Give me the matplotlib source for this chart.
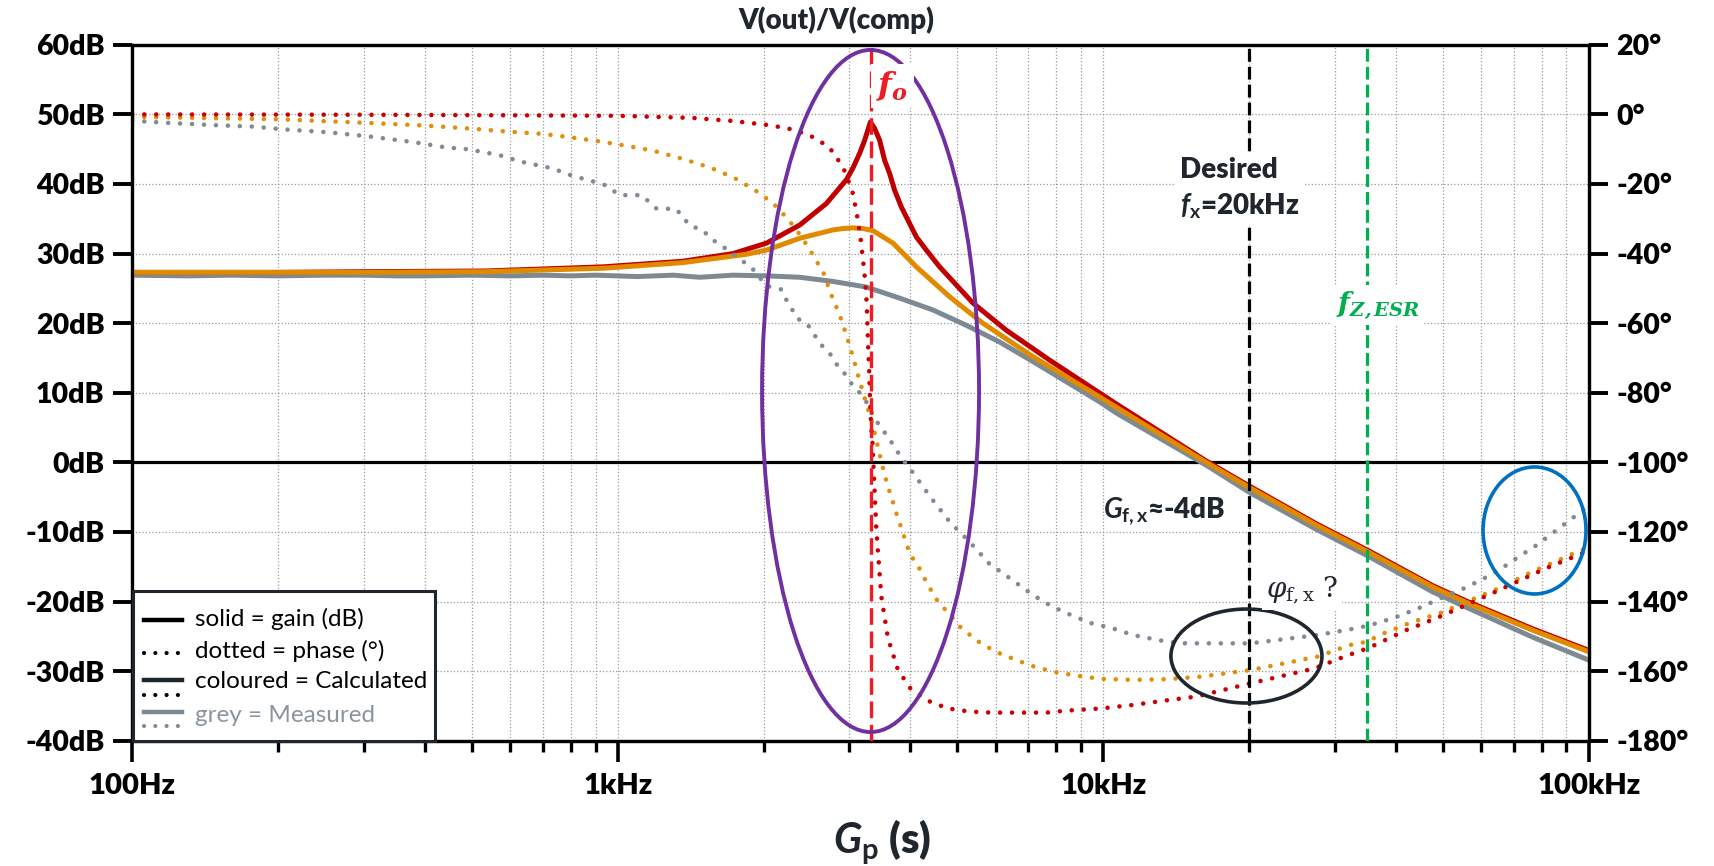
import matplotlib
matplotlib.use("Agg")
import matplotlib.pyplot as plt
from matplotlib import font_manager as fm
from matplotlib.patches import Ellipse, Rectangle
from matplotlib.lines import Line2D
from matplotlib.ticker import FixedLocator, NullFormatter

# ---------------- data ----------------
# Calculated gain, red (high Q)
red_gain_f = [100, 200, 300, 534, 935, 1360, 1727, 2024, 2370, 2690, 2957, 3051, 3149, 3226,
              3314, 3381, 3462, 3546, 3631, 3718, 3838, 3961, 4121, 4322, 4602, 4981, 5390,
              6312, 7752, 10640, 16300, 20000, 27450, 35000, 47700, 55900, 76600, 100000]
red_gain_db = [27.3, 27.3, 27.4, 27.5, 28.1, 28.9, 30.0, 31.5, 34.1, 37.2, 40.6, 42.3, 44.4,
               46.3, 48.9, 48.0, 46.3, 43.4, 41.5, 39.1, 36.7, 34.8, 32.4, 30.5, 28.1, 25.5,
               22.9, 19.0, 14.7, 8.4, 0.2, -3.4, -8.8, -12.6, -17.7, -19.9, -23.9, -27.0]

# Calculated gain, orange (lower Q)
orange_gain_f = [100, 300, 534, 935, 1360, 1840, 2024, 2370, 2775, 2911, 3051, 3200, 3355,
                 3690, 4121, 4826, 5650, 7161, 9830, 12650, 16300, 20000, 27450, 35000,
                 47700, 55900, 76600, 100000]
orange_gain_db = [27.3, 27.3, 27.4, 27.9, 28.7, 29.9, 30.5, 32.2, 33.4, 33.6, 33.7, 33.6, 33.3,
                  31.5, 28.1, 23.8, 20.0, 15.2, 9.4, 4.7, 0.0, -3.6, -9.0, -12.8,
                  -17.9, -20.1, -24.1, -27.2]

# Measured gain, grey
grey_gain_f = [100, 130, 160, 200, 250, 300, 350, 400, 500, 600, 700, 800, 900, 1100, 1300,
               1475, 1727, 2024, 2370, 2775, 3250, 3808, 4459, 5224, 6116, 7161, 8390,
               9830, 10640, 16300, 20000, 27450, 35000, 47700, 55900, 76600, 100000]
grey_gain_db = [26.9, 26.8, 26.9, 26.8, 26.9, 26.9, 26.8, 26.8, 26.9, 26.8, 26.9, 26.8, 26.9,
                26.7, 26.9, 26.6, 26.9, 26.8, 26.6, 26.0, 25.2, 23.6, 21.9, 19.7, 17.3,
                14.5, 11.6, 8.7, 7.1, -0.4, -4.3, -9.6, -13.4, -18.6, -20.8, -25.1, -28.4]

# Calculated phase, red
red_ph_f = [100, 300, 700, 1000, 1420, 1727, 2024, 2240, 2478, 2707, 2798, 2940, 3050, 3110,
            3160, 3198, 3232, 3257, 3267, 3277, 3292, 3303, 3314, 3330, 3345, 3409, 3491,
            3602, 3776, 4005, 4355, 4787, 5305, 5882, 7632, 8454, 9904, 11510, 13480,
            15540, 20080, 27230, 31650, 35060, 36480, 42060, 48490, 55890, 64430, 74270,
            81690, 98720, 100000]
red_ph_deg = [0.0, -0.1, -0.3, -0.4, -1.0, -1.9, -3.0, -4.0, -5.9, -9.1, -11.4, -16.5, -22.7,
              -28.9, -35.1, -41.4, -47.6, -54.3, -60.0, -65.8, -72.0, -78.7, -84.9, -90.7,
              -93.6, -119.4, -138.6, -150.5, -159.6, -164.9, -168.5, -170.7, -171.6,
              -171.9, -171.9, -171.3, -170.7, -169.7, -168.4, -167.3, -163.5, -159.2,
              -155.6, -153.4, -152.3, -148.2, -144.8, -141.0, -137.1, -133.1, -130.4,
              -125.7, -125.2]

# Calculated phase, orange
orange_ph_f = [100, 200, 300, 400, 500, 600, 700, 800, 900, 1000, 1180, 1370, 1511, 1597,
               1756, 1914, 2088, 2242, 2389, 2524, 2656, 2754, 2865, 2957, 3051, 3125, 3226,
               3330, 3409, 3491, 3585, 3748, 3880, 4005, 4140, 4340, 4580, 4751, 5084, 5504,
               6003, 6622, 7278, 8065, 8937, 9904, 11600, 13480, 15790, 20080, 27660,
               32150, 35060, 37070, 43060, 49650, 57240, 65980, 76060, 87000, 96420, 100000]
orange_ph_deg = [-0.7, -1.4, -2.4, -3.2, -4.1, -5.0, -5.6, -6.6, -7.6, -8.6, -10.4, -12.9,
                 -14.8, -16.0, -18.6, -21.7, -25.5, -30.1, -35.1, -40.4, -45.7, -51.9,
                 -57.6, -63.4, -69.6, -74.9, -81.6, -87.8, -93.6, -99.8, -106.0, -114.6,
                 -120.9, -126.6, -129.3, -134.9, -140.3, -142.6, -147.4, -151.3, -154.4,
                 -156.8, -158.9, -160.4, -161.4, -162.2, -162.5, -162.3, -161.6, -159.7,
                 -155.8, -152.5, -151.5, -149.6, -146.0, -143.2, -139.5, -135.9, -131.6,
                 -128.0, -125.2, -124.7]

# Measured phase, grey
grey_ph_f = [100, 117, 143, 177, 205, 252, 310, 381, 443, 491, 570, 632, 733, 805, 935,
             1010, 1120, 1200, 1320, 1410, 1487, 1571, 1687, 1826, 1899, 2024, 2173, 2225,
             2279, 2339, 2446, 2524, 2585, 2681, 2775, 2842, 2943, 3028, 3149, 3251, 3381,
             3491, 3602, 3807, 4057, 4425, 4866, 5060, 5433, 5815, 6600, 7161, 7816, 8594,
             9447, 10470, 11510, 13480, 14820, 20080, 27660, 30410, 33690, 37070, 40740,
             45160, 49650, 54580, 60000, 65450, 71400, 77900, 100000]
grey_ph_deg = [-1.8, -2.4, -3.0, -3.5, -4.3, -5.1, -6.4, -8.0, -9.5, -10.0, -11.7, -13.6,
               -15.5, -17.6, -20.1, -23.2, -23.2, -27.0, -27.2, -32.1, -33.0, -36.1, -39.0,
               -42.6, -44.5, -49.3, -50.3, -53.3, -55.7, -58.6, -60.0, -62.4, -65.3, -67.5,
               -69.8, -72.5, -74.7, -77.3, -80.0, -82.6, -87.3, -90.2, -92.6, -97.9, -103.0,
               -110.3, -117.7, -119.9, -124.4, -129.0, -134.5, -138.1, -141.3, -143.9,
               -146.2, -147.7, -149.6, -151.5, -152.0, -152.0, -149.6, -148.6, -147.5,
               -146.0, -144.1, -141.6, -139.0, -136.6, -133.8, -130.9, -127.3, -123.9,
               -112.5]

F0 = 3330      # resonance frequency marker
FX = 20000     # desired crossover frequency
FZ = 35000     # ESR zero frequency

db_ticks = list(range(-40, 61, 10))
deg_ticks = list(range(-180, 21, 20))
x_major = [100, 1000, 10000, 100000]
x_major_labels = ["100Hz", "1kHz", "10kHz", "100kHz"]

# ---------------- fonts ----------------
lato = [(f.style, f.weight) for f in fm.fontManager.ttflist if f.name == "Lato"]
has_lato_bi = any(s in ("italic", "oblique") and int(w) >= 600 for s, w in lato)
has_lato_heavy = any(int(w) >= 800 for s, w in lato if s == "normal")
HEAVY = "heavy" if has_lato_heavy else "bold"
IT_FONT = "Lato:italic:bold" if has_lato_bi else "DejaVu Sans:oblique:bold"

plt.rcParams.update({
    "font.family": ["Lato", "DejaVu Sans"],
    "mathtext.fontset": "custom",
    "mathtext.rm": "Lato:bold",
    "mathtext.it": IT_FONT,
    "mathtext.bf": "Lato:bold",
    "mathtext.cal": "DejaVu Serif:italic:bold",
    "mathtext.sf": "DejaVu Serif:italic",
    "mathtext.tt": "DejaVu Serif",
    "axes.unicode_minus": False,
})

W, H = 1714, 866
RED = "#C00000"
RED_DOT = "#CC0000"
ORANGE = "#E08A00"
GREY = "#7E8A93"
DARK = "#1F262D"

fig = plt.figure(figsize=(W / 100, H / 100), dpi=100)
ax = fig.add_axes([132.3 / W, 1 - 740.8 / H, 1456.4 / W, 696 / H])
ax2 = ax.twinx()

def fpx(x, y):
    return (x / W, 1 - y / H)

ax.set_xscale("log")
ax.set_xlim(100, 100000)
ax.set_ylim(-40, 60)
ax2.set_ylim(-180, 20)

# gains
gl = 3.6
ax.plot(grey_gain_f, grey_gain_db, color=GREY, lw=gl, solid_joinstyle="round",
        solid_capstyle="butt", zorder=3)
ax.plot(red_gain_f, red_gain_db, color=RED, lw=gl, solid_joinstyle="round",
        solid_capstyle="butt", zorder=4)
ax.plot(orange_gain_f, orange_gain_db, color=ORANGE, lw=gl, solid_joinstyle="round",
        solid_capstyle="butt", zorder=5)

# phases (dotted)
dot = (0, (0.01, 2.6))
pl = 3.3
ax2.plot(grey_ph_f, grey_ph_deg, color="#808B95", lw=pl, linestyle=dot,
         dash_capstyle="round", zorder=2)
ax2.plot(orange_ph_f, orange_ph_deg, color="#E08E0B", lw=pl, linestyle=dot,
         dash_capstyle="round", zorder=2)
ax2.plot(red_ph_f, red_ph_deg, color=RED_DOT, lw=pl, linestyle=dot,
         dash_capstyle="round", zorder=2)

# ticks, grid
ax.set_yticks(db_ticks)
ax.set_yticklabels([f"{v}dB" for v in db_ticks])
ax2.set_yticks(deg_ticks)
ax2.set_yticklabels([f"{v}°" for v in deg_ticks])
ax.xaxis.set_major_locator(FixedLocator(x_major))
ax.set_xticklabels(x_major_labels)
minors = [m * d for d in (100, 1000, 10000) for m in range(2, 10)]
ax.xaxis.set_minor_locator(FixedLocator(minors))
ax.xaxis.set_minor_formatter(NullFormatter())

for lab in ax.get_yticklabels() + ax2.get_yticklabels():
    lab.set_fontsize(20.5)
    lab.set_fontweight(HEAVY)
    lab.set_color("black")
for lab in ax.get_xticklabels():
    lab.set_fontsize(21)
    lab.set_fontweight(HEAVY)
    lab.set_color("black")

ax.tick_params(axis="y", which="major", length=14, width=2.8, pad=6, direction="out")
ax2.tick_params(axis="y", which="major", length=14, width=2.8, pad=6, direction="out")
ax.tick_params(axis="x", which="major", length=15, width=2.6, pad=8, direction="out")
ax.tick_params(axis="x", which="minor", length=8, width=2.4, direction="out")
ax2.tick_params(axis="x", which="both", length=0)

for a in (ax, ax2):
    for s in a.spines.values():
        s.set_linewidth(2.3)
        s.set_color("black")

ax.grid(True, which="major", axis="y", color="#9a9a9a", linestyle=":", lw=0.9)
ax.grid(True, which="both", axis="x", color="#9a9a9a", linestyle=":", lw=0.9)
ax.set_axisbelow(True)
ax.axhline(0, color="black", lw=2.3, zorder=2)

# vertical markers
ax2.axvline(F0, color="#EE1C25", lw=2.4, linestyle=(0, (5, 2)), zorder=8)
ax2.axvline(FX, color="black", lw=2.3, linestyle=(0, (4, 1.6)), zorder=6)
ax2.axvline(FZ, color="#00B050", lw=2.3, linestyle=(0, (4, 1.6)), zorder=6)

# ellipses (axes fractions)
ax2.add_patch(Ellipse((0.5069, 0.5026), 0.149, 0.98, transform=ax2.transAxes,
                      fill=False, edgecolor="#7030A0", lw=2.8, zorder=9, clip_on=False))
ax2.add_patch(Ellipse((0.765, 0.1218), 0.1037, 0.135, transform=ax2.transAxes,
                      fill=False, edgecolor=DARK, lw=2.6, zorder=9))
ax2.add_patch(Ellipse((0.9628, 0.3022), 0.0707, 0.1825, transform=ax2.transAxes,
                      fill=False, edgecolor="#0070C0", lw=2.6, zorder=9))

# annotations
fig.text(*fpx(836, 20), "V(out)/V(comp)", ha="center", va="center",
         fontsize=20, fontweight=HEAVY, color=DARK)
fig.text(*fpx(882, 842), r"$G_\mathbf{p}$ (s)", ha="center", va="center",
         fontsize=30, fontweight=HEAVY, color=DARK)

ax2.text(*fpx(876, 86), r"$\mathcal{f}_{\mathcal{o}}$", transform=fig.transFigure,
         ha="left", va="center", fontsize=23, color="#EE1C25",
         bbox=dict(facecolor="white", edgecolor="none", pad=4), zorder=12)

ax2.text(*fpx(1180, 189), "Desired\n" + r"$f_\mathbf{x}$=20kHz", transform=fig.transFigure,
         ha="left", va="center", fontsize=20, fontweight=HEAVY, color=DARK,
         linespacing=1.4, bbox=dict(facecolor="white", edgecolor="none", pad=3), zorder=12)

ax2.text(*fpx(1103, 511), r"$G_\mathbf{f,x}$≈-4dB", transform=fig.transFigure,
         ha="left", va="center", fontsize=20, fontweight=HEAVY, color=DARK,
         family=["Lato", "DejaVu Sans"], zorder=12)

ax2.text(*fpx(1266, 590), r"$\mathsf{φ}_{\mathtt{f,x}}$ ?", transform=fig.transFigure,
         ha="left", va="center", fontsize=20, color=DARK, family=["DejaVu Serif"],
         bbox=dict(facecolor="white", edgecolor="none", pad=3), zorder=12)

ax2.text(*fpx(1336, 305), r"$\mathcal{f}_{\mathcal{Z,ESR}}$", transform=fig.transFigure,
         ha="left", va="center", fontsize=20, color="#00B050",
         bbox=dict(facecolor="white", edgecolor="none", pad=3), zorder=12)

# legend (drawn manually)
lx0, ly0, lx1, ly1 = 133, 591, 435, 741
fig.patches.append(Rectangle(fpx(lx0, ly1), (lx1 - lx0) / W, (ly1 - ly0) / H,
                             transform=fig.transFigure, facecolor="white",
                             edgecolor=DARK, lw=2.2, zorder=20))
leg_font = dict(fontsize=17.5, ha="left", va="center", zorder=21)
hx0, hx1, tx = 144, 182, 195
def hline(y, color, ls):
    (xa, ya), (xb, yb) = fpx(hx0, y), fpx(hx1, y)
    fig.add_artist(Line2D([xa, xb], [ya, yb], transform=fig.transFigure, color=color,
                          lw=3.2 if ls == "-" else 3.0, linestyle=ls,
                          dash_capstyle="round", zorder=21))
hline(620, "black", "-")
fig.text(*fpx(tx, 619), "solid = gain (dB)", color="black", **leg_font)
hline(653, "black", (0, (0.01, 2.7)))
fig.text(*fpx(tx, 651), "dotted = phase (°)", color="black", **leg_font)
hline(680, DARK, "-")
hline(695, "black", (0, (0.01, 2.7)))
fig.text(*fpx(tx, 682), "coloured = Calculated", color="black", **leg_font)
hline(712, GREY, "-")
hline(726, GREY, (0, (0.01, 2.7)))
fig.text(*fpx(tx, 715), "grey = Measured", color="#8A959E", **leg_font)

fig.savefig("out.png", dpi=100)
